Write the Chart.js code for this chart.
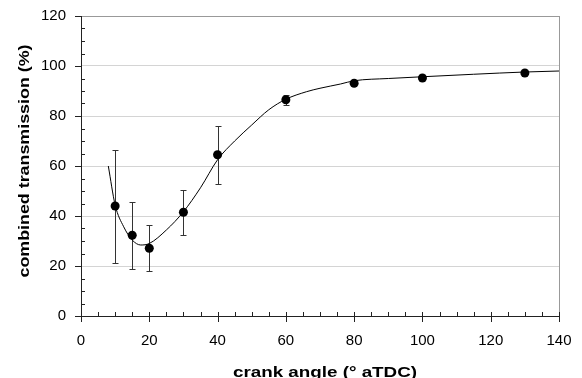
<!DOCTYPE html>
<html>
<head>
<meta charset="utf-8">
<script src="https://cdn.jsdelivr.net/npm/chart.js@4.4.0/dist/chart.umd.min.js"></script>
<style>
body { margin: 0; background: #fff; }
</style>
</head>
<body>
<canvas id="myChart" width="582" height="378"></canvas>
<script>
// measured points
const angle = [10, 15, 20, 30, 40, 60, 80, 100, 130];
const transmission = [44, 32.3, 27.1, 41.5, 64.5, 86.5, 93.1, 95.2, 97.2];
const errHigh = [66.5, 45.7, 36.3, 50.5, 76, 88.4, 93.1, 95.2, 97.2];
const errLow = [21.1, 18.8, 18, 32.3, 53, 84.3, 93.1, 95.2, 97.2];

// fitted curve
const fitAngle = [8, 10, 12.5, 15, 17.5, 20, 25, 30, 35, 40, 45, 50, 55, 60, 66, 70, 76, 80, 90, 100, 115, 130, 140];
const fitValue = [60, 44.4, 35.7, 30.4, 28.4, 29, 34.4, 41.7, 51.3, 62.5, 70, 76.4, 82.5, 86.7, 89.7, 91.1, 92.8, 94.1, 95, 95.7, 96.7, 97.6, 98];

const xTicks = [0, 20, 40, 60, 80, 100, 120, 140];
const yTicks = [0, 20, 40, 60, 80, 100, 120];
const xTitle = 'crank angle (° aTDC)';
const yTitle = 'combined transmission (%)';

Chart.defaults.font.family = '"Liberation Sans", Arial, sans-serif';
Chart.defaults.color = '#000';

const errorBars = {
    id: 'errorBars',
    beforeDatasetsDraw(chart) {
        const ctx = chart.ctx, x = chart.scales.x, y = chart.scales.y;
        ctx.save();
        ctx.strokeStyle = '#333';
        ctx.lineWidth = 1;
        angle.forEach((a, i) => {
            if (errHigh[i] === errLow[i]) return;
            const px = Math.round(x.getPixelForValue(a)) + 0.5;
            const top = Math.round(y.getPixelForValue(errHigh[i])) + 0.5;
            const bot = Math.round(y.getPixelForValue(errLow[i])) + 0.5;
            ctx.beginPath();
            ctx.moveTo(px, top); ctx.lineTo(px, bot);
            ctx.moveTo(px - 3, top); ctx.lineTo(px + 3, top);
            ctx.moveTo(px - 3, bot); ctx.lineTo(px + 3, bot);
            ctx.stroke();
        });
        ctx.restore();
    }
};

// text is a bit wider in the original, so titles are stretched horizontally
function stretchedText(ctx, text, cx, cy, width, rot) {
    ctx.save();
    ctx.font = 'bold 14px "Liberation Sans", Arial, sans-serif';
    ctx.fillStyle = '#000';
    ctx.textAlign = 'center';
    ctx.textBaseline = 'alphabetic';
    const k = width / ctx.measureText(text).width;
    ctx.translate(cx, cy);
    ctx.rotate(rot);
    ctx.scale(k, 1);
    ctx.fillText(text, 0, 0);
    ctx.restore();
}

const axisMarks = {
    id: 'axisMarks',
    afterDraw(chart) {
        const ctx = chart.ctx, x = chart.scales.x, y = chart.scales.y;
        const a = chart.chartArea;
        ctx.save();
        ctx.lineWidth = 1;
        // right border
        ctx.strokeStyle = '#999';
        ctx.beginPath();
        ctx.moveTo(Math.round(a.right) + 0.5, a.top);
        ctx.lineTo(Math.round(a.right) + 0.5, a.bottom);
        ctx.stroke();
        ctx.strokeStyle = '#222';
        ctx.beginPath();
        for (let v = 0; v <= 140; v += 5) {
            const px = Math.round(x.getPixelForValue(v)) + 0.5;
            ctx.moveTo(px, a.bottom - 4);
            ctx.lineTo(px, v % 20 === 0 ? a.bottom + 6 : a.bottom);
        }
        for (let v = 0; v <= 120; v += 5) {
            const py = Math.round(y.getPixelForValue(v)) + 0.5;
            if (v % 20 === 0) {
                ctx.moveTo(a.left - 6, py); ctx.lineTo(a.left, py);
            } else {
                ctx.moveTo(a.left, py); ctx.lineTo(a.left + 4, py);
            }
        }
        ctx.stroke();
        ctx.restore();
        stretchedText(ctx, xTitle, (a.left + a.right) / 2 + 5, 377, 184, 0);
        stretchedText(ctx, yTitle, 28.5, (a.top + a.bottom) / 2 - 5, 233, -Math.PI / 2);
    }
};

const ctx = document.getElementById('myChart');

const myChart = new Chart(ctx, {
    type: 'scatter',
    data: {
        datasets: [
            {
                label: 'fit',
                data: fitAngle.map((a, i) => ({ x: a, y: fitValue[i] })),
                showLine: true,
                borderColor: '#000',
                borderWidth: 1,
                pointRadius: 0,
                cubicInterpolationMode: 'monotone'
            },
            {
                label: 'measured',
                data: angle.map((a, i) => ({ x: a, y: transmission[i] })),
                backgroundColor: '#000',
                borderColor: '#000',
                pointRadius: 4.5,
                borderWidth: 0
            }
        ]
    },
    options: {
        responsive: false,
        animation: false,
        devicePixelRatio: 1,
        layout: { padding: { top: 16, right: 23, left: 0, bottom: 0 } },
        plugins: {
            legend: { display: false },
            tooltip: { enabled: false }
        },
        scales: {
            x: {
                type: 'linear',
                min: 0,
                max: 140,
                afterFit: s => { s.height = 62; s.paddingLeft = 0; s.paddingRight = 0; },
                afterBuildTicks: s => { s.ticks = xTicks.map(v => ({ value: v })); },
                grid: { display: false, drawTicks: false },
                border: { display: true, color: '#222', width: 1 },
                ticks: { font: { size: 15 }, padding: 16, maxRotation: 0 }
            },
            y: {
                min: 0,
                max: 120,
                afterFit: s => { s.width = 81; s.paddingTop = 0; s.paddingBottom = 0; },
                afterBuildTicks: s => { s.ticks = yTicks.map(v => ({ value: v })); },
                grid: {
                    drawTicks: false,
                    color: c => c.tick.value === 120 ? '#999' : (c.tick.value === 0 ? 'rgba(0,0,0,0)' : '#d4d4d4'),
                    lineWidth: 1
                },
                border: { display: true, color: '#222', width: 1 },
                ticks: { font: { size: 15 }, padding: 15 }
            }
        }
    },
    plugins: [errorBars, axisMarks]
});
</script>
</body>
</html>
